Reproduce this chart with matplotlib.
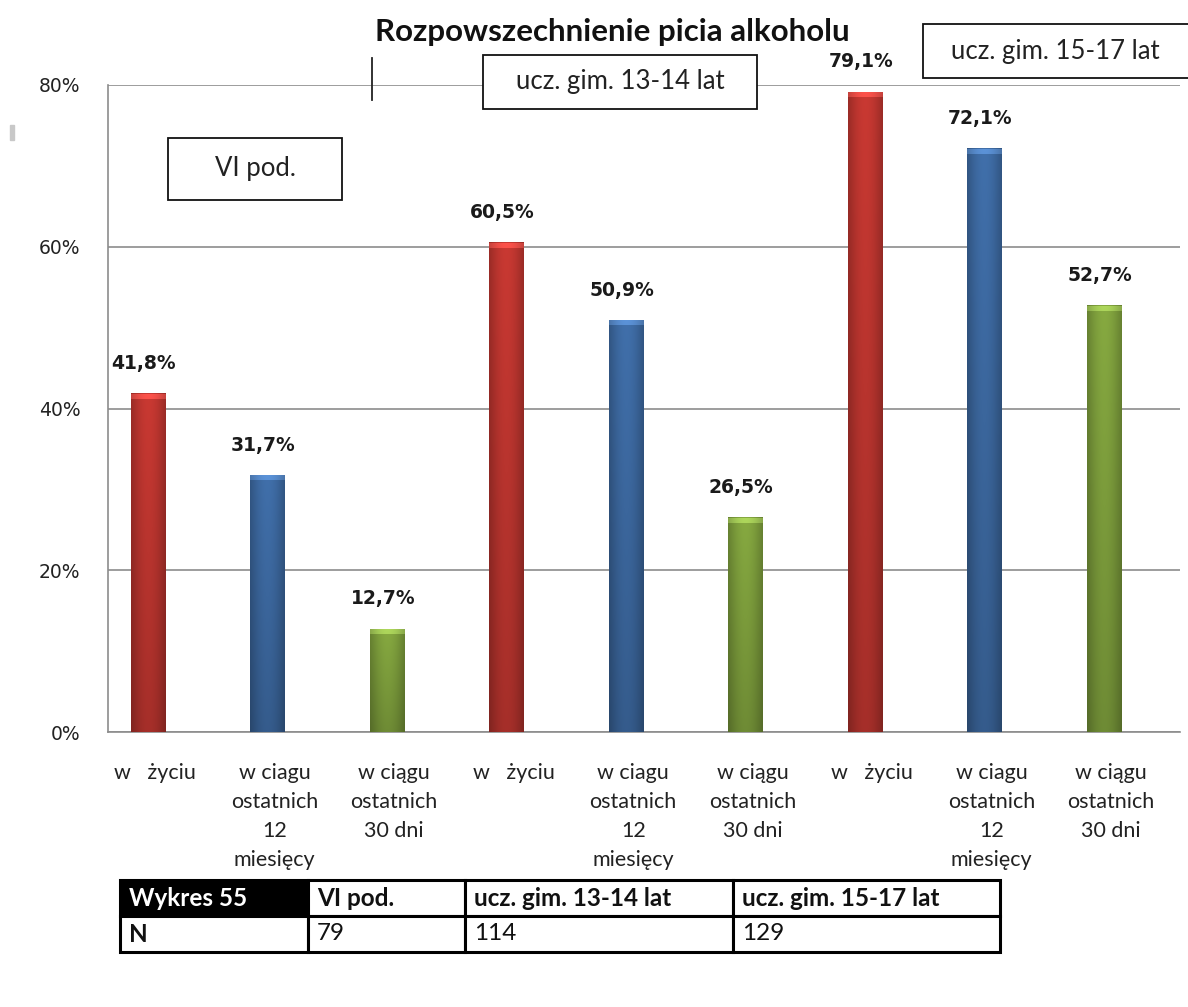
import numpy as np
import matplotlib
matplotlib.use('Agg')
import matplotlib.pyplot as plt
from matplotlib.patches import Rectangle

# data
categories = ['w   życiu', 'w ciagu\nostatnich\n12\nmiesięcy', 'w ciągu\nostatnich\n30 dni',
              'w   życiu', 'w ciagu\nostatnich\n12\nmiesięcy', 'w ciągu\nostatnich\n30 dni',
              'w   życiu', 'w ciagu\nostatnich\n12\nmiesięcy', 'w ciągu\nostatnich\n30 dni']
values = [41.8, 31.7, 12.7, 60.5, 50.9, 26.5, 79.1, 72.1, 52.7]
groups = ['VI pod.', 'ucz. gim. 13-14 lat', 'ucz. gim. 15-17 lat']
n_values = [79, 114, 129]
yticks = [0, 20, 40, 60, 80]

bar_colors = ['#b8342e', '#3b669c', '#7b9b3b'] * 3

W, H = 1188, 1007
fig = plt.figure(figsize=(W / 100, H / 100), dpi=100)
fig.patch.set_facecolor('white')


def fx(px):
    return px / W


def fy(py):
    return 1 - py / H


ax = fig.add_axes([fx(108), fy(732), fx(1180) - fx(108), fy(85) - fy(732)])
x = np.arange(len(values))
bars = ax.bar(x, values, width=0.29, color=bar_colors, zorder=2)
ax.set_xlim(-0.335, 8.636)
ax.set_ylim(0, 80)

# fake the 3D gradient look of the excel bars
prof = 0.76 + 0.24 * np.sin(np.linspace(0.05, np.pi - 0.05, 40))
for b, c in zip(bars, bar_colors):
    rgb = np.array(matplotlib.colors.to_rgb(c))
    vert = np.linspace(1.02, 0.84, 100)[:, None]
    img = np.clip(vert[:, :, None] * prof[None, :, None] * rgb[None, None, :] * 1.07, 0, 1)
    x0, w, h = b.get_x(), b.get_width(), b.get_height()
    ax.imshow(img, extent=[x0, x0 + w, 0, h], aspect='auto', zorder=3, interpolation='bilinear')
    cap = np.clip(img[:6] * 1.18 + 0.06, 0, 1)
    ax.imshow(cap, extent=[x0, x0 + w, h - 0.6, h], aspect='auto', zorder=4, interpolation='bilinear')
    b.set_visible(False)

for xi, v in zip(x, values):
    ax.annotate('{:.1f}%'.format(v).replace('.', ','), (xi, v), xytext=(-3, 15),
                textcoords='offset points', ha='center', va='bottom',
                fontsize=13.5, fontweight='bold', color='#1a1a1a', family='DejaVu Sans')

ax.set_yticks(yticks)
ax.set_yticklabels(['{}%'.format(t) for t in yticks], fontsize=13.5, family='DejaVu Sans', color='#222222')
ax.set_xticks(x + 0.06)
ax.set_xticklabels(categories, fontsize=15.5, family='Lato', color='#222222', linespacing=1.58)
ax.tick_params(axis='both', length=0)
ax.tick_params(axis='y', pad=20)
ax.tick_params(axis='x', pad=22)
ax.grid(axis='y', color='#8c8c8c', lw=1.2, zorder=0)
for s in ['top', 'right']:
    ax.spines[s].set_visible(False)
for s in ['left', 'bottom']:
    ax.spines[s].set_color('#8c8c8c')
    ax.spines[s].set_linewidth(1.2)

fig.text(fx(612), fy(32), 'Rozpowszechnienie picia alkoholu', ha='center', va='center',
         fontsize=22.5, fontweight='bold', family='Lato', color='#111111')

# group label boxes
boxes = [(168, 138, 342, 200), (483, 55, 757, 109), (923, 24, 1190, 78)]
for (x0, y0, x1, y1), g in zip(boxes, groups):
    fig.patches.append(Rectangle((fx(x0), fy(y1)), fx(x1) - fx(x0), fy(y0) - fy(y1),
                                 transform=fig.transFigure, facecolor='white',
                                 edgecolor='#111111', lw=1.3, zorder=5))
    fig.text(fx((x0 + min(x1, 1188)) / 2), fy((y0 + y1) / 2), g, ha='center', va='center',
             fontsize=18.5, family='Lato', color='#222222', zorder=6)

fig.lines.append(plt.Line2D([fx(372), fx(372)], [fy(58), fy(100)], transform=fig.transFigure,
                            color='#222222', lw=1.3))
fig.patches.append(Rectangle((fx(10), fy(140)), fx(4), fy(125) - fy(140),
                             transform=fig.transFigure, color='#c8c8c8'))

# table under the chart
tx0, tx1 = 120, 1000
tax = fig.add_axes([fx(tx0), fy(952), fx(tx1) - fx(tx0), fy(880) - fy(952)])
tax.axis('off')
cells = [['Wykres 55'] + groups, ['N'] + [str(n) for n in n_values]]
col_w = [188, 157, 268, 267]
tbl = tax.table(cellText=cells, colWidths=[c / sum(col_w) for c in col_w],
                cellLoc='left', bbox=[0, 0, 1, 1])
tbl.auto_set_font_size(False)
for (r, c), cell in tbl.get_celld().items():
    cell.set_edgecolor('black')
    cell.set_linewidth(2.2)
    cell.PAD = 9 / col_w[c]
    t = cell.get_text()
    t.set_fontsize(17.5)
    t.set_family('Lato')
    t.set_color('#111111')
    if r == 0 or c == 0:
        t.set_fontweight('bold')
    if r == 0 and c == 0:
        cell.set_facecolor('black')
        t.set_color('white')

fig.savefig('out.png', dpi=100, facecolor='white')
